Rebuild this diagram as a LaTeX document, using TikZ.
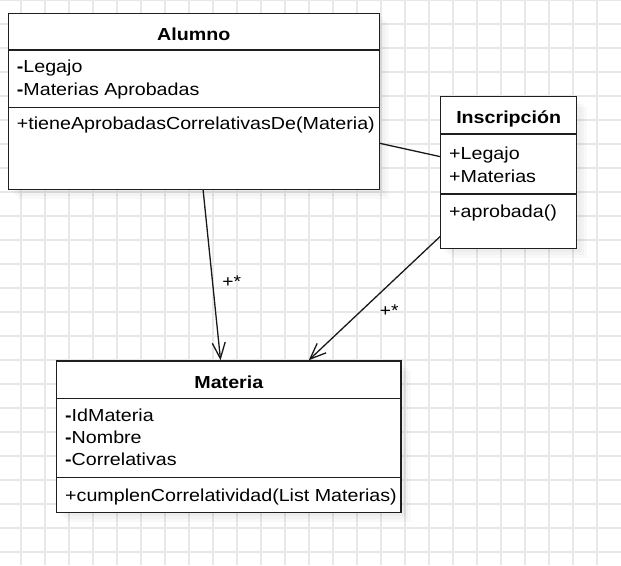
\documentclass[tikz,border=0pt]{standalone}
\usepackage{fontspec}
\setmainfont{Liberation Sans}[FakeStretch=1.13]
\usetikzlibrary{arrows.meta,calc,shadows}
\begin{document}
\begin{tikzpicture}[x=1pt,y=-1pt,
  gridline/.style={draw=black!9,line width=1.2pt},
  umlbox/.style={draw=black!88,fill=white,line width=1.5pt,inner sep=0pt,
     drop shadow={shadow xshift=10pt,shadow yshift=-10pt,fill=black,opacity=0.025},
     drop shadow={shadow xshift=7pt,shadow yshift=-7pt,fill=black,opacity=0.025},
     drop shadow={shadow xshift=4pt,shadow yshift=-4pt,fill=black,opacity=0.025}},
  sep/.style={draw=black!88,line width=1.5pt},
  title/.style={anchor=base,inner sep=0pt,font=\fontsize{17.4}{20}\selectfont\bfseries},
  member/.style={anchor=base west,inner sep=0pt,font=\fontsize{17.4}{20}\selectfont},
  assoc/.style={draw=black!90,line width=1.3pt},
  nav/.style={assoc,-{Straight Barb[length=16pt,width=13pt]}},
  mult/.style={inner sep=0pt,font=\fontsize{17}{20}\selectfont}]
\useasboundingbox (0,0) rectangle (621,565);
\fill[white] (0,0) rectangle (621,565);
% grid
\foreach \i in {0,...,24} \draw[gridline] (21+24*\i,0) -- (21+24*\i,565);
\foreach \j in {0,...,23} \draw[gridline] (0,24*\j) -- (621,24*\j);

% Alumno
\node[umlbox,minimum width=371pt,minimum height=176pt] (alumno) at (193.8,101.3) {};
\draw[sep] (alumno.west |- 0,50) -- (alumno.east |- 0,50);
\draw[sep] (alumno.west |- 0,107.3) -- (alumno.east |- 0,107.3);
\node[title] (alumnot) at (193.8,40) {Alumno};
\node[member] (alumnoa1) at (16.7,72.5) {\textbf{-}Legajo};
\node[member] (alumnoa2) at (16.7,95.2) {\textbf{-}Materias Aprobadas};
\node[member] (alumnom1) at (16.7,129.5) {+tieneAprobadasCorrelativasDe(Materia)};

% Inscripcion
\node[umlbox,minimum width=136pt,minimum height=151.6pt] (insc) at (508.7,172.5) {};
\draw[sep] (insc.west |- 0,134) -- (insc.east |- 0,134);
\draw[sep] (insc.west |- 0,194) -- (insc.east |- 0,194);
\node[title] (insct) at (508.7,123.8) {Inscripción};
\node[member] (insca1) at (449,159.5) {+Legajo};
\node[member] (insca2) at (449,182.3) {+Materias};
\node[member] (inscm1) at (449,217) {+aprobada()};

% Materia
\node[umlbox,minimum width=344.3pt,minimum height=151.3pt] (materia) at (228.85,436.65) {};
\draw[sep] (materia.west |- 0,398.3) -- (materia.east |- 0,398.3);
\draw[sep] (materia.west |- 0,477.7) -- (materia.east |- 0,477.7);
\node[title] (materiat) at (228.85,388) {Materia};
\node[member] (materiaa1) at (65,421) {\textbf{-}IdMateria};
\node[member] (materiaa2) at (65,443.3) {\textbf{-}Nombre};
\node[member] (materiaa3) at (65,465.6) {\textbf{-}Correlativas};
\node[member] (materiam1) at (65,501.5) {+cumplenCorrelatividad(List Materias)};

% connectors
\draw[nav] ($(alumno.south west)!0.525!(alumno.south east)$) -- ($(materia.north west)!0.476!(materia.north east)$);
\draw[nav] ($(insc.north west)!0.919!(insc.south west)$) -- ($(materia.north west)!0.731!(materia.north east)$);
\draw[assoc] ($(alumno.north east)!0.737!(alumno.south east)$) -- ($(insc.north west)!0.396!(insc.south west)$);
\node[mult] (mult1) at (231.7,281.7) {+*};
\node[mult] (mult2) at (389.3,311) {+*};
\end{tikzpicture}
\end{document}
